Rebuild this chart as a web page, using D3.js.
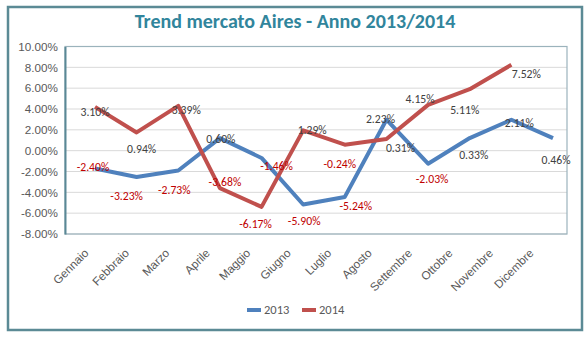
<!DOCTYPE html>
<html>
<head>
<meta charset="utf-8">
<script src="https://cdn.jsdelivr.net/npm/d3@7"></script>
<style>
  body { margin: 0; background: #fff; }
  svg { font-family: Carlito, Lato, "Open Sans", sans-serif; }
</style>
</head>
<body>
<div id="chart"></div>
<script>
const months = ["Gennaio", "Febbraio", "Marzo", "Aprile", "Maggio", "Giugno",
    "Luglio", "Agosto", "Settembre", "Ottobre", "Novembre", "Dicembre"];

// values as drawn by the lines (in %)
const values2013 = [-1.72, -2.52, -1.9, 1.2, -0.7, -5.17, -4.44, 2.97, -1.25, 1.21, 2.97, 1.21];
const values2014 = [4.2, 1.75, 4.3, -3.6, -5.4, 1.95, 0.57, 1.12, 4.4, 5.9, 8.24, null];

// data labels printed on the chart (in %)
const labels2013 = [-2.40, -3.23, -2.73, 0.60, -1.46, -5.90, -5.24, 2.23, -2.03, 0.33, 2.11, 0.46];
const labels2014 = [3.10, 0.94, 3.39, -3.68, -6.17, 1.29, -0.24, 0.31, 4.15, 5.11, 7.52, null];

const yTicks = [-8, -6, -4, -2, 0, 2, 4, 6, 8, 10];
const seriesNames = ["2013", "2014"];

// label nudges from the point (px), hand placed like in the original
const nudge2013 = [[-2, -2], [-10, 19], [-4, 19], [1, 1], [15, 8], [1, 16], [11, 9], [-6, -1], [4, 15], [4, 17], [8, 3], [3, 22]];
const nudge2014 = [[0, 5], [5, 16], [8, 4], [5, -6], [-6, 17], [9, 0], [-5, 19], [14, 9], [-8, -6], [-5, 21], [15, 9], [0, 0]];

const width = 586, height = 352;
const plot = { left: 65, right: 567, top: 46.5, bottom: 234 };
const colors = { "2013": "#4f81bd", "2014": "#c0504d" };
const fs = 11.7;

const svg = d3.select("#chart").append("svg")
    .attr("width", width)
    .attr("height", height);

// outer frame
svg.append("rect")
    .attr("x", 8).attr("y", 7)
    .attr("width", 574).attr("height", 323)
    .attr("fill", "#fff")
    .attr("stroke", "#5b8a95")
    .attr("stroke-width", 2.5);

svg.append("text")
    .attr("x", 295).attr("y", 28)
    .attr("text-anchor", "middle")
    .attr("fill", "#31859c")
    .attr("font-weight", "bold")
    .attr("font-size", 20)
    .text("Trend mercato Aires - Anno 2013/2014");

/* scales */
const x = d3.scalePoint().domain(months).range([95, 553]);
const xLab = d3.scalePoint().domain(months).range([83, 528]);
const y = d3.scaleLinear().domain([-8, 10]).range([plot.bottom, plot.top]);

/* gridlines */
svg.append("g")
    .selectAll("line")
    .data(yTicks)
    .enter()
    .append("line")
    .attr("x1", plot.left).attr("x2", plot.right)
    .attr("y1", d => y(d)).attr("y2", d => y(d))
    .attr("stroke", "#d9d9d9")
    .attr("stroke-width", 1);

// plot area border
svg.append("rect")
    .attr("x", plot.left).attr("y", plot.top)
    .attr("width", plot.right - plot.left)
    .attr("height", plot.bottom - plot.top)
    .attr("fill", "none")
    .attr("stroke", "#9bb3bc")
    .attr("stroke-width", 1.2);

/* Y-axis */
const yAxis = svg.append("g")
    .attr("transform", `translate(${plot.left}, 0)`)
    .call(d3.axisLeft(y).tickValues(yTicks).tickSize(0).tickPadding(7)
        .tickFormat(d => d.toFixed(2) + "%"));
yAxis.select(".domain").attr("stroke", "#5a8896").attr("stroke-width", 2);
yAxis.selectAll("text")
    .attr("font-size", fs)
    .attr("fill", "#595959")
    .attr("font-family", null);

/* X-axis labels */
const xAxis = svg.append("g")
    .attr("transform", `translate(0, ${plot.bottom + 14})`)
    .call(d3.axisBottom(xLab).tickSize(0).tickPadding(0));
xAxis.select(".domain").remove();
xAxis.selectAll("text")
    .attr("font-size", fs)
    .attr("fill", "#595959")
    .attr("font-family", null)
    .attr("text-anchor", "end")
    .attr("dy", "0.7em")
    .attr("transform", "rotate(-45)");

/* lines */
const series = [
    { name: "2013", values: values2013, labels: labels2013, nudge: nudge2013 },
    { name: "2014", values: values2014, labels: labels2014, nudge: nudge2014 }
];

const line = d3.line()
    .defined(d => d.v !== null)
    .x(d => x(d.m))
    .y(d => y(d.v));

series.forEach(s => {
    const pts = months.map((m, i) => ({ m, v: s.values[i] }));
    svg.append("path")
        .datum(pts)
        .attr("fill", "none")
        .attr("stroke", colors[s.name])
        .attr("stroke-width", 4)
        .attr("stroke-linejoin", "round")
        .attr("d", line);
});

// data labels drawn after both lines
series.forEach(s => {
    const lbl = months.map((m, i) => ({ m, v: s.values[i], l: s.labels[i], n: s.nudge[i] }))
        .filter(d => d.l !== null);
    svg.append("g")
        .selectAll("text")
        .data(lbl)
        .enter()
        .append("text")
        .attr("x", d => x(d.m) + d.n[0])
        .attr("y", d => y(d.v) + d.n[1])
        .attr("dy", "0.35em")
        .attr("text-anchor", "middle")
        .attr("font-size", fs)
        .attr("fill", d => d.l < 0 ? "#c00000" : "#404040")
        .text(d => d.l.toFixed(2) + "%");
});

/* legend */
const legend = svg.append("g").attr("transform", "translate(247, 310)");
const li = legend.selectAll("g")
    .data(seriesNames)
    .enter()
    .append("g")
    .attr("transform", (d, i) => `translate(${i * 55}, 0)`);
li.append("line")
    .attr("x1", 0).attr("x2", 14)
    .attr("stroke", d => colors[d])
    .attr("stroke-width", 4);
li.append("text")
    .attr("x", 17)
    .attr("dy", "0.35em")
    .attr("font-size", 12.5)
    .attr("fill", "#595959")
    .text(d => d);
</script>
</body>
</html>
